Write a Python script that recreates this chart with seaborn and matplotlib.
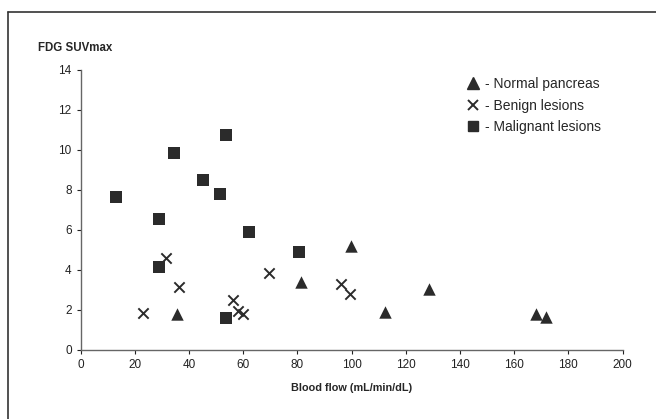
import matplotlib
matplotlib.use("Agg")
import matplotlib.pyplot as plt
from matplotlib.lines import Line2D
import seaborn as sns
import pandas as pd

sns.set_style("white")
plt.rcParams['font.family'] = ['Liberation Sans', 'DejaVu Sans']

normal_x = [35.5, 81.5, 99.6, 112.4, 128.5, 168.0, 171.8]
normal_y = [1.8, 3.4, 5.2, 1.9, 3.05, 1.8, 1.65]

benign_x = [23.1, 31.5, 36.2, 56.4, 58.2, 60.0, 69.6, 95.9, 99.4]
benign_y = [1.82, 4.58, 3.12, 2.5, 1.95, 1.8, 3.85, 3.27, 2.78]

malig_x = [13.0, 34.4, 45.2, 51.5, 53.8, 28.8, 29.0, 62.2, 80.5, 53.5]
malig_y = [7.65, 9.87, 8.5, 7.82, 10.77, 6.53, 4.15, 5.92, 4.92, 1.6]

groups = ["Normal pancreas", "Benign lesions", "Malignant lesions"]
x_ticks = list(range(0, 201, 20))
y_ticks = list(range(0, 15, 2))

df = pd.DataFrame({
    "flow": normal_x + benign_x + malig_x,
    "suv": normal_y + benign_y + malig_y,
    "group": [groups[0]] * len(normal_x) + [groups[1]] * len(benign_x) + [groups[2]] * len(malig_x),
})

col = "#2b2b2b"
markers = {groups[0]: "^", groups[1]: "x", groups[2]: "s"}
sizes = {groups[0]: 80, groups[1]: 55, groups[2]: 70}

fig = plt.figure(figsize=(6.56, 4.19), dpi=100)
ax = fig.add_axes([0.123, 0.165, 0.826, 0.668])

for g in groups:
    sub = df[df.group == g]
    sns.scatterplot(data=sub, x="flow", y="suv", marker=markers[g], s=sizes[g],
                    color=col, linewidth=1.4 if g == groups[1] else 0,
                    ax=ax, legend=False, zorder=3)

ax.set_xlim(0, 200)
ax.set_ylim(0, 14)
ax.set_xticks(x_ticks)
ax.set_yticks(y_ticks)
ax.tick_params(axis="both", labelsize=8.5, colors="#222222", length=3, width=0.8, direction="out")
for s in ["top", "right"]:
    ax.spines[s].set_visible(False)
for s in ["left", "bottom"]:
    ax.spines[s].set_color("#666666")
    ax.spines[s].set_linewidth(1.0)
ax.xaxis.set_ticks_position("bottom")
ax.yaxis.set_ticks_position("left")
ax.set_xlabel("Blood flow (mL/min/dL)", fontsize=7.8, fontweight="bold", labelpad=9)
ax.set_ylabel("")
fig.text(38 / 656, 1 - 48 / 419, "FDG SUVmax", fontsize=8.3, fontweight="bold", va="center", ha="left")

handles = [
    Line2D([], [], marker="^", linestyle="", color=col, markersize=8),
    Line2D([], [], marker="x", linestyle="", color=col, markersize=7, markeredgewidth=1.4),
    Line2D([], [], marker="s", linestyle="", color=col, markersize=7),
]
ax.legend(handles, ["- " + g for g in groups], loc="upper left",
          bbox_to_anchor=(0.682, 1.02), frameon=False, fontsize=10,
          handletextpad=0.1, labelspacing=0.55, handlelength=1.5)

fig.add_artist(Line2D([8 / 656, 1.0], [1 - 12 / 419, 1 - 12 / 419], transform=fig.transFigure, color="#333333", lw=1.2))
fig.add_artist(Line2D([8 / 656, 8 / 656], [0, 1 - 12 / 419], transform=fig.transFigure, color="#333333", lw=1.2))

fig.savefig("out.png", dpi=100)
